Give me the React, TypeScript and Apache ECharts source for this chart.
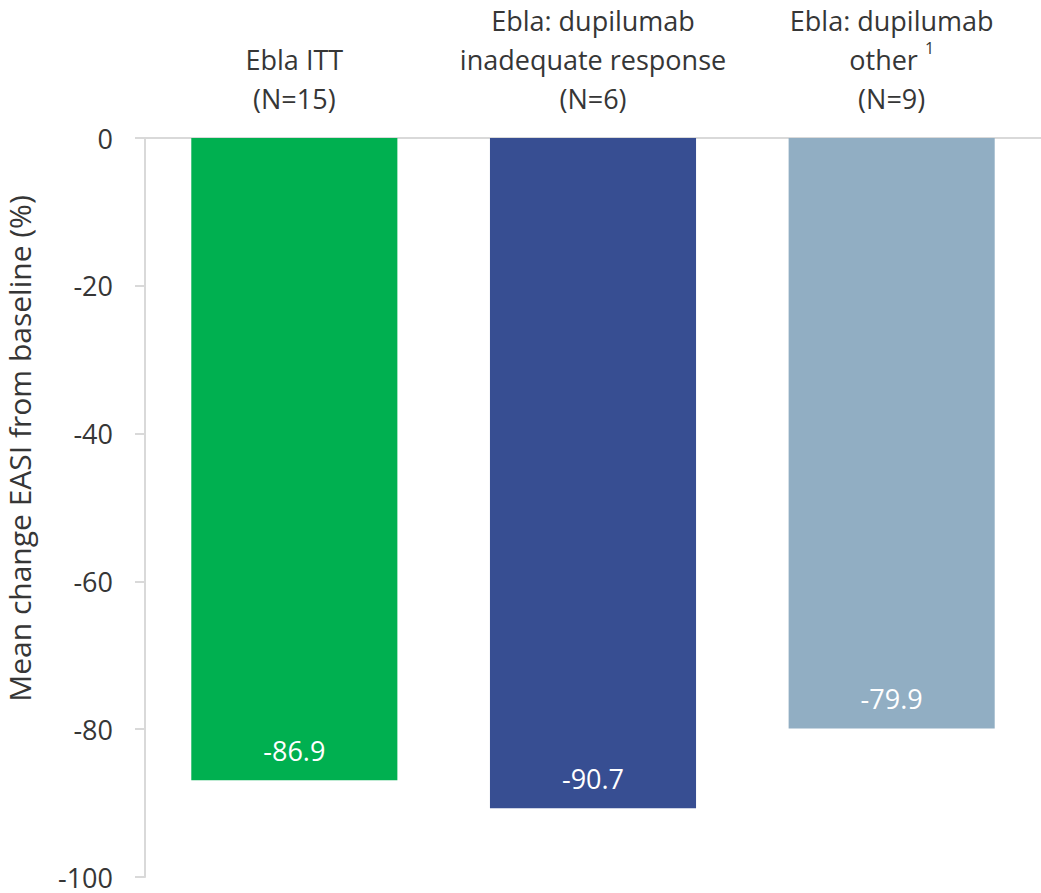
import React, { useEffect, useRef } from "react";
import * as echarts from "echarts";

// Category labels (top axis), values and tick range
const categories: string[] = [
  "Ebla ITT\n(N=15)",
  "Ebla: dupilumab\ninadequate response\n(N=6)",
  "Ebla: dupilumab\nother {sup|1}\n(N=9)",
];
const meanChange: number[] = [-86.9, -90.7, -79.9];
const barColors: string[] = ["#00B050", "#374E92", "#91AEC3"];
const yTicks = { min: -100, max: 0, interval: 20 };
const yAxisTitle = "Mean change EASI from baseline (%)";

const FONT = "'Open Sans', 'Noto Sans', sans-serif";
const TEXT = "#363636";
const AXIS = "#D9D9D9";

export default function App() {
  const ref = useRef<HTMLDivElement>(null);

  useEffect(() => {
    if (!ref.current) return;
    const chart = echarts.init(ref.current, null, { renderer: "svg" });
    chart.setOption({
      animation: false,
      backgroundColor: "#ffffff",
      grid: {
        left: 145,
        right: 0,
        top: 138,
        bottom: 16,
        containLabel: false,
        outerBoundsMode: "none",
      },
      xAxis: {
        type: "category",
        position: "top",
        data: categories,
        axisLine: { show: true, onZero: true, lineStyle: { color: AXIS, width: 2 } },
        axisTick: { show: false },
        axisLabel: {
          interval: 0,
          margin: 20,
          fontFamily: FONT,
          fontSize: 27,
          lineHeight: 39,
          color: TEXT,
          rich: {
            sup: {
              fontFamily: FONT,
              fontSize: 16,
              color: TEXT,
              verticalAlign: "top",
              padding: [0, 0, 14, 0],
            },
          },
        },
      },
      yAxis: {
        type: "value",
        min: yTicks.min,
        max: yTicks.max,
        interval: yTicks.interval,
        name: yAxisTitle,
        nameLocation: "middle",
        nameGap: 110,
        nameTextStyle: {
          fontFamily: FONT,
          fontSize: 30,
          lineHeight: 32,
          color: TEXT,
          padding: [0, 0, 0, 118],
        },
        axisLine: { show: true, lineStyle: { color: AXIS, width: 2 } },
        axisTick: { show: true, length: 10, lineStyle: { color: AXIS, width: 2 } },
        splitLine: { show: false },
        axisLabel: {
          margin: 32,
          fontFamily: FONT,
          fontSize: 27,
          lineHeight: 24,
          color: TEXT,
        },
      },
      series: [
        {
          type: "bar",
          data: meanChange.map((v, i) => ({ value: v, itemStyle: { color: barColors[i] } })),
          barWidth: "69%",
          label: {
            show: true,
            position: "insideBottom",
            distance: 16,
            fontFamily: FONT,
            fontSize: 27,
            color: "#ffffff",
            formatter: (p: any) => p.value.toFixed(1),
          },
        },
      ],
    });
    return () => chart.dispose();
  }, []);

  return (
    <div
      ref={ref}
      style={{ position: "fixed", left: 0, top: 0, width: 1041, height: 893, background: "#fff" }}
    />
  );
}
